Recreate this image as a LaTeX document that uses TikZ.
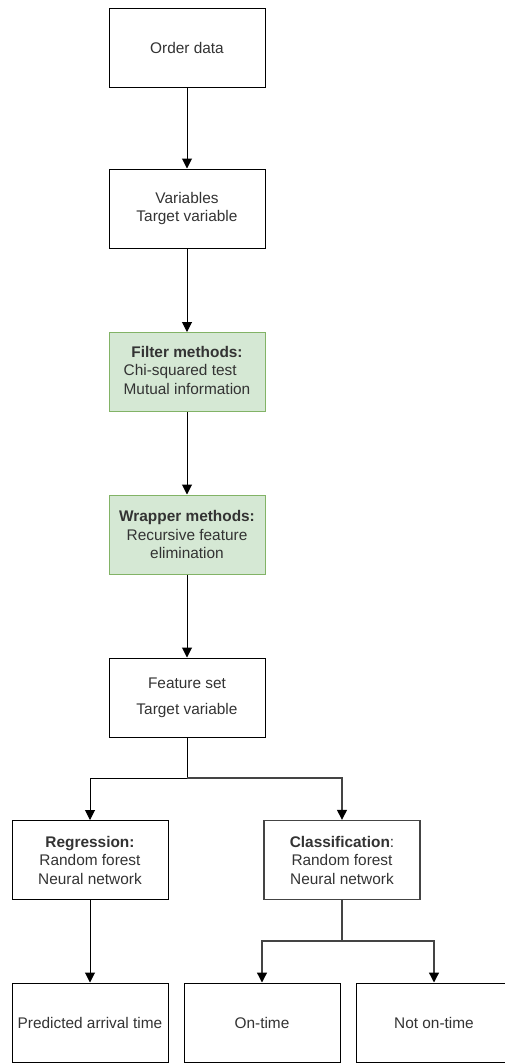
\documentclass[tikz,border=0pt]{standalone}
\usepackage{fontspec}
\setmainfont{Liberation Sans}
\usetikzlibrary{arrows.meta}
\definecolor{gfill}{HTML}{D5E8D4}
\definecolor{gdraw}{HTML}{82B366}
\definecolor{cgray}{HTML}{444444}
\tikzset{
  box/.style={draw=black, line width=1pt, fill=white, minimum width=156pt, minimum height=79pt,
    align=center, inner sep=0pt, font=\fontsize{15.4}{18.5}\selectfont, text=black!80},
  gbox/.style={box, draw=gdraw, fill=gfill},
  conn/.style={line width=1pt, black},
  arr/.style={conn, -{Triangle[length=10pt,width=10pt,color=black]}},
}
\begin{document}
\begin{tikzpicture}[x=1pt,y=-1pt]
\useasboundingbox (0,0) rectangle (504,1063);
\node[box] (order) at (187,47.5) {Order data};
\node[box] (vars) at (187,208.5) {Variables\\Target variable};
\node[gbox] (filter) at (187,372) {\begin{tabular}{@{}l@{}}\multicolumn{1}{@{}c@{}}{\bfseries Filter methods:}\\Chi-squared test\\Mutual information\end{tabular}};
\node[gbox] (wrap) at (187,534.5) {\bfseries Wrapper methods:\\Recursive feature\\elimination};
\node[box] (feat) at (187,697.5) {Feature set\\[7.5pt]Target variable};
\node[box] (reg) at (90,860) {\bfseries Regression:\\Random forest\\Neural network};
\node[box, draw=cgray, line width=1.4pt] (cls) at (342,860) {{\bfseries Classification}:\\Random forest\\Neural network};
\node[box] (pred) at (90,1022.5) {Predicted arrival time};
\node[box] (ontime) at (262,1022.5) {On-time};
\node[box] (noton) at (434,1022.5) {Not on-time};
\coordinate (j1) at (187,778);
\coordinate (j2) at (342,941);
\draw[arr] (order) -- (vars);
\draw[arr] (vars) -- (filter);
\draw[arr] (filter) -- (wrap);
\draw[arr] (wrap) -- (feat);
\draw[conn] (feat.south) -- (j1);
\draw[arr] (j1) -| (reg.north);
\draw[arr, draw=cgray, line width=1.3pt] (j1) -| (cls.north);
\draw[arr] (reg) -- (pred);
\draw[conn, draw=cgray, line width=1.8pt] (cls.south) -- (j2);
\draw[arr, draw=cgray, line width=1.3pt] (j2) -| (ontime.north);
\draw[arr, draw=cgray, line width=1.3pt] (j2) -| (noton.north);
\end{tikzpicture}
\end{document}
